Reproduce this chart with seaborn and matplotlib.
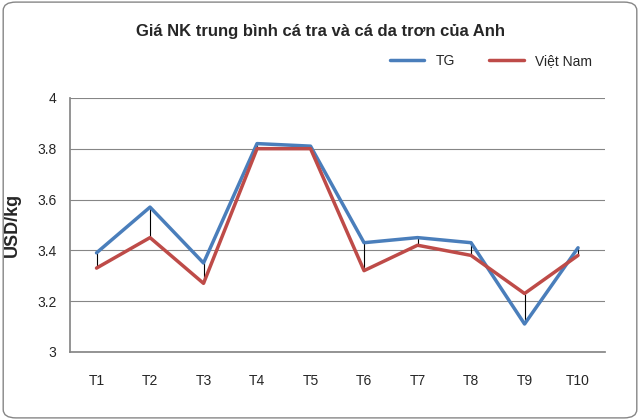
import matplotlib.pyplot as plt
import seaborn as sns
import pandas as pd
from matplotlib.patches import FancyBboxPatch

months = ["T1", "T2", "T3", "T4", "T5", "T6", "T7", "T8", "T9", "T10"]
tg = [3.39, 3.57, 3.35, 3.82, 3.81, 3.43, 3.45, 3.43, 3.11, 3.41]
vn = [3.33, 3.45, 3.27, 3.80, 3.80, 3.32, 3.42, 3.38, 3.23, 3.38]

sns.set_theme(style="white")
plt.rcParams['font.family'] = ['Liberation Sans', 'DejaVu Sans']

fig = plt.figure(figsize=(6.4, 4.2), dpi=100)
ax = fig.add_axes([0.109, 0.162, 0.836, 0.605])

x = list(range(len(months)))
df = pd.DataFrame({"x": x * 2, "y": tg + vn,
                   "s": ["TG"] * len(x) + ["Việt Nam"] * len(x)})
ax.vlines(x, [min(a, b) for a, b in zip(tg, vn)], [max(a, b) for a, b in zip(tg, vn)],
          color="black", lw=0.8, zorder=1)
sns.lineplot(data=df, x="x", y="y", hue="s", palette=["#4a7ebb", "#be4b48"],
             lw=2.5, ax=ax, zorder=2)

ax.set_xlim(-0.5, len(x) - 0.5)
ax.set_ylim(3, 4)
ax.set_yticks([3, 3.2, 3.4, 3.6, 3.8, 4])
ax.set_yticklabels(["3", "3.2", "3.4", "3.6", "3.8", "4"], fontsize=10)
ax.set_xticks(x)
ax.set_xticklabels(months, fontsize=10)
ax.tick_params(axis="x", pad=10)
ax.grid(axis="y", color="#868686", lw=0.8)
for s in ["top", "right"]:
    ax.spines[s].set_visible(False)
ax.spines["left"].set_color("#868686")
ax.spines["bottom"].set_color("#868686")
ax.set_xlabel("")
ax.set_ylabel("USD/kg", fontsize=13, fontweight="bold", labelpad=12)
ax.legend(loc="lower right", bbox_to_anchor=(1.0, 1.07), ncol=2, frameon=False,
          fontsize=10, handlelength=2.5, columnspacing=2.5)

fig.text(0.5, 0.925, "Giá NK trung bình cá tra và cá da trơn của Anh",
         ha="center", va="center", fontsize=12, fontweight="bold")
fig.patches.append(FancyBboxPatch((0.005, 0.005), 0.99, 0.99,
                                  boxstyle="round,pad=0,rounding_size=0.02",
                                  transform=fig.transFigure, fill=False,
                                  ec="#868686", lw=1))
fig.savefig("out.png", dpi=100)
